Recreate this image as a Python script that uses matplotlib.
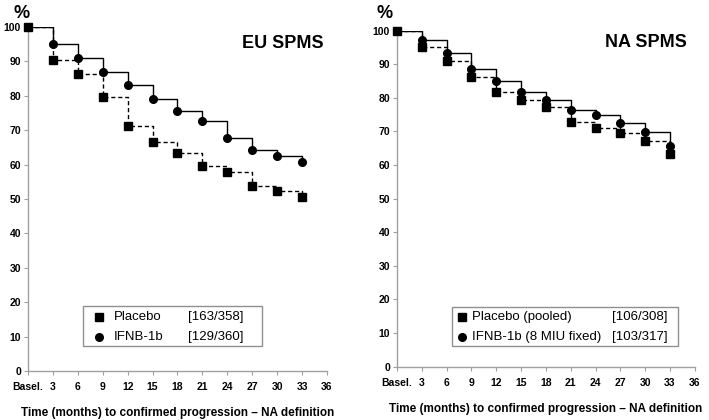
import matplotlib
matplotlib.use("Agg")
import matplotlib.pyplot as plt
from matplotlib.patches import Rectangle

plt.rcParams['font.family'] = ['Liberation Sans', 'DejaVu Sans']

# months since baseline
months = [0, 3, 6, 9, 12, 15, 18, 21, 24, 27, 30, 33]
xtick_pos = [0, 3, 6, 9, 12, 15, 18, 21, 24, 27, 30, 33, 36]
xtick_labels = ['Basel.', '3', '6', '9', '12', '15', '18', '21', '24', '27', '30', '33', '36']
ytick_pos = [0, 10, 20, 30, 40, 50, 60, 70, 80, 90, 100]

# EU SPMS (% progression-free)
eu_placebo = [100, 90.5, 86.4, 79.6, 71.3, 66.7, 63.3, 59.5, 57.8, 53.7, 52.3, 50.7]
eu_ifnb = [100, 95.1, 90.9, 87.0, 83.0, 79.1, 75.6, 72.6, 67.8, 64.2, 62.4, 60.8]

# NA SPMS
na_placebo = [100, 95.1, 90.9, 86.3, 81.6, 79.3, 77.4, 72.8, 71.0, 69.4, 67.1, 63.3]
na_ifnb = [100, 97.1, 93.3, 88.5, 85.1, 81.7, 79.4, 76.4, 75.0, 72.4, 69.7, 65.7]

xlabel = 'Time (months) to confirmed progression \u2013 NA definition'

panels = [
    dict(rect=[0.0395, 0.1167, 0.4217, 0.819], title='EU SPMS', title_xy=(0.853, 0.953),
         pct_xy=(-0.023, 1.04), placebo=eu_placebo, ifnb=eu_ifnb,
         names=['Placebo', 'IFNB-1b'], counts=['[163/358]', '[129/360]'],
         box=(0.184, 0.073, 0.599, 0.116), rows=(0.158, 0.100),
         mx=0.236, nx=0.288, cx=0.535),
    dict(rect=[0.560, 0.127, 0.420, 0.800], title='NA SPMS', title_xy=(0.836, 0.964),
         pct_xy=(-0.042, 1.05), placebo=na_placebo, ifnb=na_ifnb,
         names=['Placebo (pooled)', 'IFNB-1b (8 MIU fixed)'], counts=['[106/308]', '[103/317]'],
         box=(0.185, 0.062, 0.758, 0.116), rows=(0.149, 0.089),
         mx=0.217, nx=0.252, cx=0.721),
]

fig = plt.figure(figsize=(7.09, 4.2), dpi=100)

for p in panels:
    ax = fig.add_axes(p['rect'])
    ax.step(months, p['placebo'], where='post', color='black', lw=1.0, linestyle=(0, (3, 2)))
    ax.step(months, p['ifnb'], where='post', color='black', lw=1.0)
    ax.plot(months, p['placebo'], 's', color='black', ms=5.5, clip_on=False, zorder=3)
    ax.plot(months, p['ifnb'], 'o', color='black', ms=5.5, clip_on=False, zorder=4)

    ax.set_xlim(0, 36)
    ax.set_ylim(0, 100)
    ax.set_xticks(xtick_pos)
    ax.set_xticklabels(xtick_labels)
    ax.set_yticks(ytick_pos)
    for s in ['top', 'right']:
        ax.spines[s].set_visible(False)
    for s in ['left', 'bottom']:
        ax.spines[s].set_color('#a0a0a0')
        ax.spines[s].set_linewidth(1.0)
    ax.tick_params(length=3, width=0.8, color='#a0a0a0', labelsize=7.5, pad=2)
    ax.tick_params(axis='x', pad=5)
    for lab in ax.get_xticklabels() + ax.get_yticklabels():
        lab.set_fontweight('bold')

    ax.set_xlabel(xlabel, fontsize=8.5, fontweight='bold', labelpad=11)
    ax.text(*p['title_xy'], p['title'], transform=ax.transAxes, ha='center', va='center',
            fontsize=13, fontweight='bold')
    ax.text(*p['pct_xy'], '%', transform=ax.transAxes, ha='center', va='center',
            fontsize=13, fontweight='bold')

    # legend box
    bx, by, bw, bh = p['box']
    ax.add_patch(Rectangle((bx, by), bw, bh, transform=ax.transAxes, fill=True,
                           facecolor='white', edgecolor='#909090', lw=1.0, zorder=5))
    for ry, mk, name, cnt in zip(p['rows'], ['s', 'o'], p['names'], p['counts']):
        ax.plot([p['mx']], [ry], mk, color='black', ms=5.5, transform=ax.transAxes,
                clip_on=False, zorder=6)
        ax.text(p['nx'], ry, name, transform=ax.transAxes, ha='left', va='center',
                fontsize=9.5, zorder=6)
        ax.text(p['cx'], ry, cnt, transform=ax.transAxes, ha='left', va='center',
                fontsize=9.5, zorder=6)

fig.savefig('out.png', dpi=100)
